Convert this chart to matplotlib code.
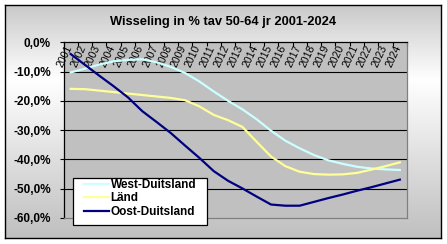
import numpy as np
import matplotlib
matplotlib.use('Agg')
import matplotlib.pyplot as plt
from matplotlib.patches import Rectangle
from matplotlib.lines import Line2D
import matplotlib.transforms as mtransforms

plt.rcParams['font.family'] = ['Liberation Sans', 'DejaVu Sans']

# data (percent change)
years = [str(y) for y in range(2001, 2025)]
west = [-10.3, -9.0, -7.6, -6.5, -6.0, -5.8, -6.8, -8.4, -10.5, -13.4, -16.8, -20.0,
        -22.9, -26.3, -30.2, -33.6, -36.2, -38.5, -40.3, -41.5, -42.5, -43.1, -43.4, -43.6]
land = [-15.9, -16.0, -16.5, -17.0, -17.5, -18.0, -18.5, -19.0, -19.8, -21.9, -24.8, -26.6,
        -28.9, -34.0, -39.0, -42.3, -44.2, -45.0, -45.2, -45.1, -44.6, -43.5, -42.3, -41.0]
oost = [-4.0, -7.7, -11.4, -15.0, -18.8, -23.5, -27.2, -31.0, -35.3, -39.5, -44.0, -47.3,
        -49.9, -52.7, -55.4, -55.8, -55.8, -54.5, -53.2, -52.0, -50.7, -49.5, -48.2, -46.9]
series_names = ['West-Duitsland', 'Länd', 'Oost-Duitsland']
series_colors = ['#CCFFFF', '#FFFF99', '#000080']
yticks = [0, -10, -20, -30, -40, -50, -60]

W, H = 447, 244
fig = plt.figure(figsize=(W/100, H/100), dpi=100)
fig.patch.set_facecolor('white')

# chart area: vertical gradient, black border
bg = fig.add_axes([5/W, 1-238/H, 436/W, 233/H])
grad = np.interp(np.linspace(0, 1, 200), [0, 0.32, 1], [0.79, 1.0, 0.75])
bg.imshow(grad[:, None, None] * np.ones((1, 1, 3)),
          aspect='auto', extent=[0, 1, 0, 1], interpolation='bilinear')
bg.set_xticks([])
bg.set_yticks([])
for s in bg.spines.values():
    s.set_color('black')
    s.set_linewidth(1)

ax = fig.add_axes([63.5/W, 1-218/H, (407-63.5)/W, (218-42.3)/H])
ax.set_facecolor('#C0C0C0')
x = np.arange(len(years))
for vals, name, col in zip([west, land, oost], series_names, series_colors):
    ax.plot(x, vals, color=col, lw=1.6, label=name, solid_joinstyle='round')

ax.set_xlim(-0.5, len(years)-0.5)
ax.set_ylim(-60, 0)
ax.set_yticks(yticks)
ax.set_yticklabels([('%.1f%%' % v).replace('.', ',') for v in yticks])
for t in ax.get_yticklabels():
    t.set_fontweight('bold')
    t.set_fontsize(8.5)
ax.tick_params(axis='y', direction='out', length=3, width=0.8, pad=6)
for yv in yticks[1:-1]:
    ax.axhline(yv, color='black', lw=0.8, zorder=0.5)

# category axis on top, labels inside the plot
ax.xaxis.tick_top()
ax.set_xticks(x)
ax.set_xticklabels([])
ax.tick_params(axis='x', which='major', length=0)
ax.set_xticks(np.arange(-0.5, len(years)), minor=True)
ax.tick_params(axis='x', which='minor', direction='in', length=3, width=0.8, top=True, bottom=False)
trans = mtransforms.blended_transform_factory(ax.transData, ax.transAxes)
for i, lab in enumerate(years):
    ax.text(i - 0.1, 0.98, lab, transform=trans, rotation=65, rotation_mode='anchor',
            ha='right', va='center', fontsize=7.5, zorder=1)

ax.spines['left'].set_color('black')
ax.spines['top'].set_color('black')
ax.spines['right'].set_color('#808080')
ax.spines['bottom'].set_color('#808080')
for s in ax.spines.values():
    s.set_linewidth(0.9)

fig.text(223/W, 1-22/H, 'Wisseling in % tav 50-64 jr 2001-2024', ha='center', va='center',
         fontsize=9.3, fontweight='bold')

# legend box
fig.add_artist(Rectangle((73.3/W, 1-225/H), 134/W, 46.7/H, transform=fig.transFigure,
                         facecolor='white', edgecolor='black', lw=0.9, zorder=5))
handles = [Line2D([], [], color=c, lw=1.6) for c in series_colors]
leg = fig.legend(handles, series_names, loc='upper left', bbox_to_anchor=(84/W, 1-179/H),
                 frameon=False, handlelength=2.1, handletextpad=0.15,
                 labelspacing=0.12, borderpad=0, borderaxespad=0,
                 prop={'weight': 'bold', 'size': 8.5})
leg.set_zorder(6)

fig.savefig('out.png', dpi=100)
